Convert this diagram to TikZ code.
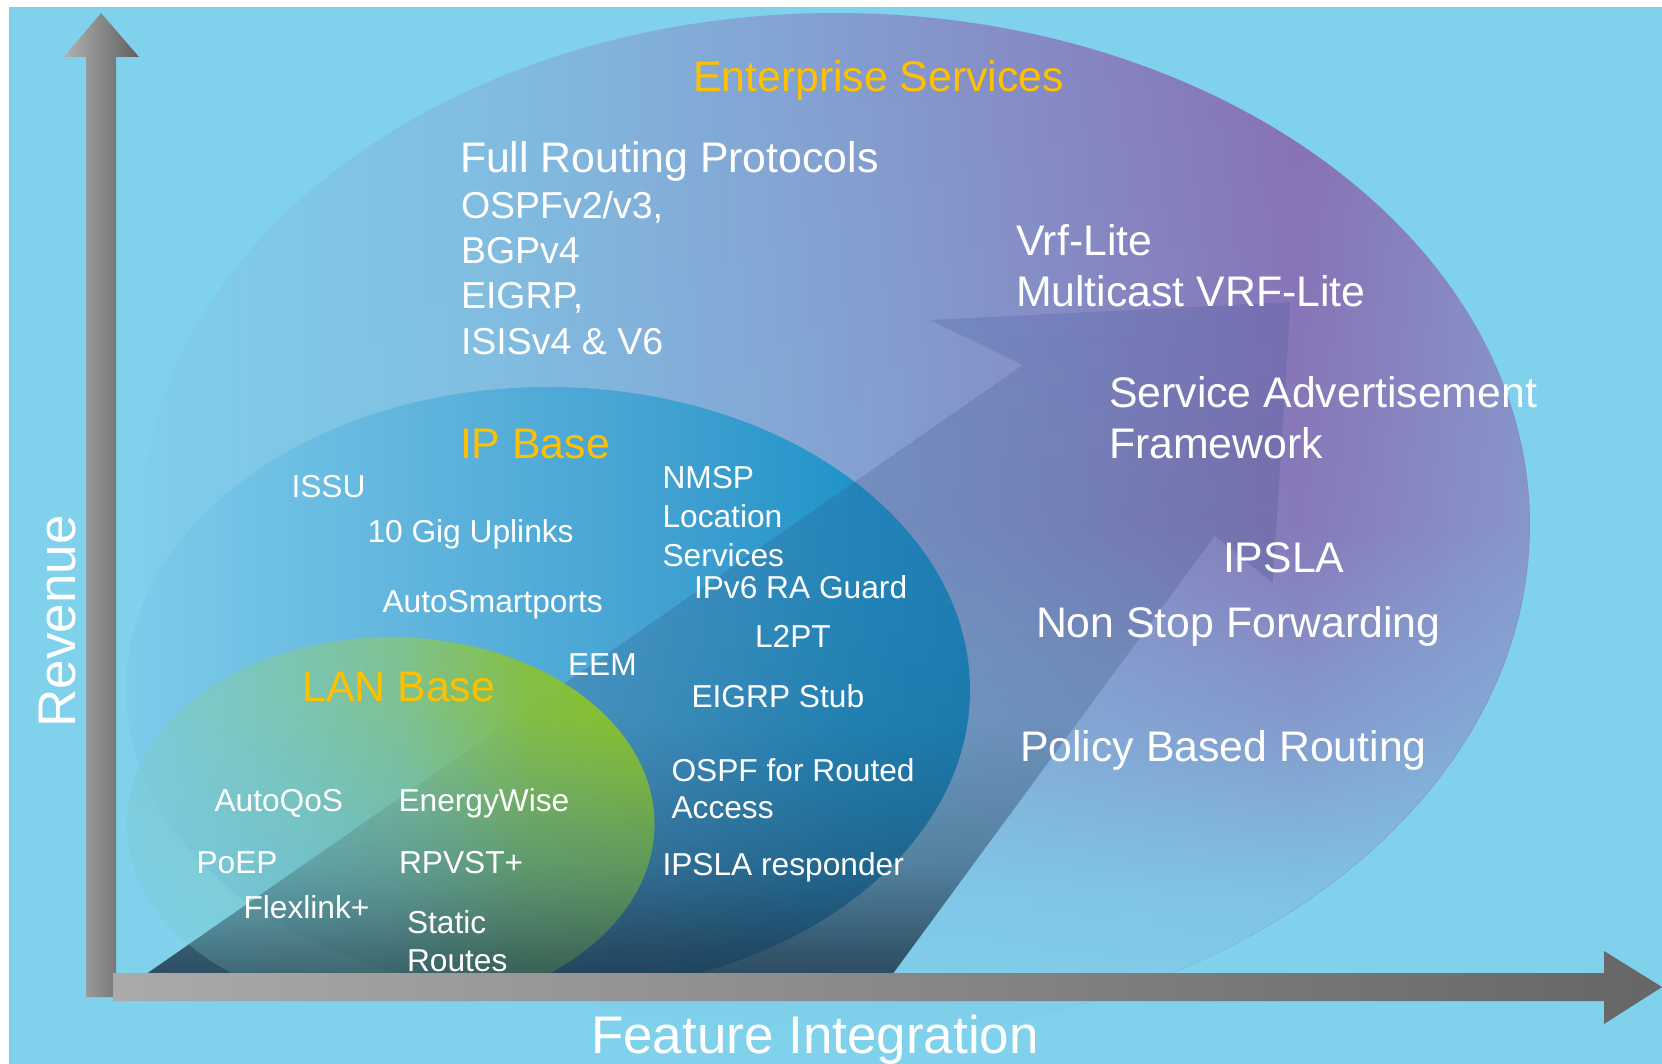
\documentclass[tikz,border=0pt]{standalone}
\usepackage{fontspec}
\setmainfont{Liberation Sans}
\usetikzlibrary{fadings}

\definecolor{bgblue}{HTML}{7FD1EC}
\definecolor{ent0}{HTML}{80CEEA}
\definecolor{ent1}{HTML}{82BCE0}
\definecolor{ent2}{HTML}{84A2D2}
\definecolor{ent3}{HTML}{8870B4}
\definecolor{ent4}{HTML}{8890C8}
\definecolor{ipA}{HTML}{7CCCEA}
\definecolor{ipB}{HTML}{62B6DE}
\definecolor{ipC}{HTML}{44A2D2}
\definecolor{ipD}{HTML}{2294C8}
\definecolor{ipE}{HTML}{1A8CC2}
\definecolor{lanA}{HTML}{7CCCDA}
\definecolor{lanB}{HTML}{7CC6B0}
\definecolor{lanC}{HTML}{80C290}
\definecolor{lanD}{HTML}{86C040}
\definecolor{lanE}{HTML}{8EC41E}
\definecolor{arrtop}{HTML}{365096}
\definecolor{arrbot}{HTML}{1A2E40}
\definecolor{hdr}{HTML}{FFC000}
\definecolor{axL}{HTML}{B0B0B0}
\definecolor{axR}{HTML}{606060}
\definecolor{haxL}{HTML}{AAAAAA}
\definecolor{haxR}{HTML}{666666}
\definecolor{fwhite}{rgb}{1,1,1}
\definecolor{fblack}{rgb}{0,0,0}
\definecolor{ften}{rgb}{0.1,0.1,0.1}
\definecolor{fa12}{rgb}{0.12,0.12,0.12}
\definecolor{fa45}{rgb}{0.45,0.45,0.45}
\definecolor{fa60}{rgb}{0.6,0.6,0.6}
\definecolor{fa85}{rgb}{0.85,0.85,0.85}
\definecolor{fa95}{rgb}{0.95,0.95,0.95}
\definecolor{fa80}{rgb}{0.8,0.8,0.8}
\definecolor{fa75}{rgb}{0.75,0.75,0.75}
\definecolor{fa46}{rgb}{0.46,0.46,0.46}
\definecolor{fa22}{rgb}{0.22,0.22,0.22}
\definecolor{fa20}{rgb}{0.2,0.2,0.2}

\pgfdeclarehorizontalshading{entshade}{100bp}{color(0bp)=(ent0); color(25bp)=(ent0); color(37.9bp)=(ent1); color(48.7bp)=(ent2); color(66.7bp)=(ent3); color(75bp)=(ent4); color(100bp)=(ent4)}
\pgfdeclarehorizontalshading{ipshade}{100bp}{color(0bp)=(ipA); color(25bp)=(ipA); color(41.2bp)=(ipB); color(56bp)=(ipC); color(67.9bp)=(ipD); color(75bp)=(ipE); color(100bp)=(ipE)}
\pgfdeclarehorizontalshading{lanshade}{100bp}{color(0bp)=(lanA); color(25bp)=(lanA); color(41.4bp)=(lanB); color(50.9bp)=(lanC); color(63.2bp)=(lanD); color(75bp)=(lanE); color(100bp)=(lanE)}

\pgfdeclareverticalshading{entfadeshade}{100bp}{color(0bp)=(fwhite); color(25bp)=(fwhite); color(32bp)=(fa85); color(40bp)=(fa45); color(50bp)=(ften); color(75bp)=(fblack); color(100bp)=(fblack)}
\pgfdeclarefading{entfade}{\pgfuseshading{entfadeshade}}
\pgfdeclareverticalshading{lanfadeshade}{100bp}{color(0bp)=(fa12); color(25bp)=(fa12); color(50bp)=(fa60); color(65bp)=(fa95); color(75bp)=(fwhite); color(100bp)=(fwhite)}
\pgfdeclarefading{lanfade}{\pgfuseshading{lanfadeshade}}
\pgfdeclareverticalshading{arrfadeshade}{100bp}{color(0bp)=(fa80); color(25bp)=(fa80); color(26.7bp)=(fa75); color(33.2bp)=(fa46); color(43.8bp)=(fa22); color(50bp)=(fa20); color(100bp)=(fa20)}
\pgfdeclarefading{arrfade}{\pgfuseshading{arrfadeshade}}

\begin{document}
\begin{tikzpicture}[x=1pt,y=-1pt,
  every node/.style={inner sep=0pt, outer sep=0pt, text=white, anchor=base west},
  big/.style={font=\fontsize{42.8}{50}\selectfont},
  hdrtxt/.style={font=\fontsize{42.8}{50}\selectfont, text=hdr},
  midtxt/.style={font=\fontsize{37.5}{45}\selectfont},
  smalltxt/.style={font=\fontsize{31.7}{38}\selectfont},
  axislab/.style={font=\fontsize{53}{60}\selectfont}]
\useasboundingbox (0,0) rectangle (1662,1064);
\fill[white] (0,0) rectangle (1662,1064);
\fill[bgblue] (9,7) rectangle (1662,1064);

% Enterprise Services region
\shade[shading=entshade] (836,525) ellipse [x radius=694, y radius=512];
\fill[bgblue, path fading=entfade] (836,525) ellipse [x radius=694, y radius=512];

% IP Base region
\shade[shading=ipshade] (548,690) ellipse [x radius=422, y radius=303];

% big growth arrow
\shade[top color=arrtop, bottom color=arrbot, path fading=arrfade]
  (148,973) -- (1025,364) -- (932,319) -- (1293,301) -- (1275,582) -- (1217,535) -- (895,973) -- cycle;

% LAN Base region
\begin{scope}
\clip (0,0) rectangle (1662,1001);
\shade[shading=lanshade, path fading=lanfade] (391,824) ellipse [x radius=264, y radius=187];
\end{scope}

% axes
\shade[left color=axL, right color=axR]
  (86,997) -- (86,57) -- (64,57) -- (101,13) -- (139,57) -- (116,57) -- (116,997) -- cycle;
\shade[left color=haxL, right color=haxR]
  (113,973) -- (1604,973) -- (1604,951) -- (1662,987) -- (1604,1024) -- (1604,1001) -- (113,1001) -- cycle;

% Enterprise texts
\node[hdrtxt] (ent) at (693,91.6) {Enterprise Services};
\node[big] (frp) at (460,173) {Full Routing Protocols};
\node[midtxt] (ospf) at (461,219) {OSPFv2/v3,};
\node[midtxt] (bgp) at (461,264) {BGPv4};
\node[midtxt] (eigrp) at (461,309) {EIGRP,};
\node[midtxt] (isis) at (461,354.6) {ISISv4 \& V6};
\node[big] (vrf) at (1016,255.2) {Vrf-Lite};
\node[big] (mvrf) at (1016,307) {Multicast VRF-Lite};
\node[big] (saf1) at (1109,407.2) {Service Advertisement};
\node[big] (saf2) at (1109,458.8) {Framework};
\node[big] (ipsla) at (1223,572.7) {IPSLA};
\node[big] (nsf) at (1036,637.9) {Non Stop Forwarding};
\node[big] (pbr) at (1020,761) {Policy Based Routing};

% IP Base texts
\node[hdrtxt] (ipb) at (460,458) {IP Base};
\node[smalltxt] (issu) at (291.5,497.3) {ISSU};
\node[smalltxt] (tengig) at (367.5,542.7) {10 Gig Uplinks};
\node[smalltxt] (asp) at (382.5,612.7) {AutoSmartports};
\node[smalltxt] (nmsp1) at (662.5,488) {NMSP};
\node[smalltxt] (nmsp2) at (662.5,527.6) {Location};
\node[smalltxt] (nmsp3) at (662.5,566) {Services};
\node[smalltxt] (ra) at (694,598) {IPv6 RA Guard};
\node[smalltxt] (l2pt) at (755,647.4) {L2PT};
\node[smalltxt] (eem) at (568,675) {EEM};
\node[smalltxt] (stub) at (691.5,707.3) {EIGRP Stub};
\node[smalltxt] (ospfra1) at (671.5,781.7) {OSPF for Routed};
\node[smalltxt] (ospfra2) at (671.5,818.3) {Access};
\node[smalltxt] (iplr) at (662.5,875) {IPSLA responder};

% LAN Base texts
\node[hdrtxt] (lanb) at (302.5,701.7) {LAN Base};
\node[smalltxt] (aqos) at (214.5,811) {AutoQoS};
\node[smalltxt] (ew) at (398.5,811) {EnergyWise};
\node[smalltxt] (poep) at (196.5,873.3) {PoEP};
\node[smalltxt] (rpvst) at (399,873.3) {RPVST+};
\node[smalltxt] (flex) at (243.5,918.3) {Flexlink+};
\node[smalltxt] (st1) at (407,933.3) {Static};
\node[smalltxt] (st2) at (407,971.7) {Routes};

% axis labels
\node[axislab] (fi) at (591,1053.3) {Feature Integration};
\node[axislab, rotate=90] (rev) at (75,727.5) {Revenue};
\end{tikzpicture}
\end{document}
